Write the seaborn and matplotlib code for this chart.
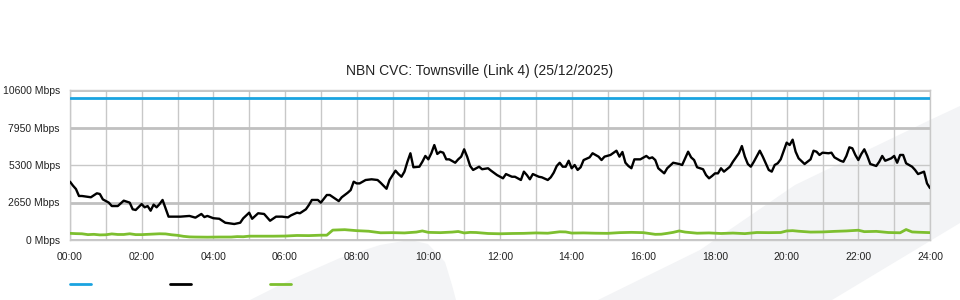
import matplotlib
matplotlib.use("Agg")
import matplotlib.pyplot as plt
from matplotlib.lines import Line2D
from matplotlib.patches import Polygon
import pandas as pd
import seaborn as sns

TITLE = "NBN CVC: Townsville (Link 4) (25/12/2025)"
Y_TICKS = [0, 2650, 5300, 7950, 10600]
Y_TICK_LABELS = [f"{v} Mbps" for v in Y_TICKS]
X_TICKS = list(range(0, 1441, 120))          # minutes
X_TICK_LABELS = [f"{m // 60:02d}:00" for m in X_TICKS]
X_MINOR = list(range(0, 1441, 60))

# capacity (blue)
CAP_T = [0, 1440]
CAP_V = [10000, 10000]

# traffic in (black), minutes / Mbps
IN_T = [0, 5, 10, 15, 20, 35, 45, 50, 55,
        65, 70, 80, 90, 100, 105, 110,
        120, 125, 130, 135, 140, 145, 150, 155, 165,
        185, 200, 210, 220, 225, 230,
        240, 250, 260, 275, 285, 290,
        300, 305, 315, 325, 330, 335, 345, 355,
        365, 370, 380, 385, 395, 400, 405, 415,
        420, 430, 435, 450, 455, 465, 470, 475,
        480, 485, 495, 505, 515, 520, 530, 535,
        545, 550, 555, 560, 565, 570, 575, 585, 590, 595,
        600, 605, 610, 615, 620, 625, 630, 635, 645, 650, 655,
        660, 665, 670, 675, 685, 690, 700, 705, 715,
        725, 730, 740, 745, 755, 760, 765, 770, 775,
        785, 790, 800, 805, 810, 815, 820, 825, 830, 835,
        840, 845, 850, 855, 860, 870, 875, 885, 890, 895,
        905, 915, 920, 925, 930, 935, 940, 945, 955,
        965, 970, 975, 980, 985, 995, 1000, 1010,
        1020, 1025, 1035, 1040, 1045, 1050, 1060, 1065, 1070, 1075,
        1080, 1085, 1090, 1095, 1105, 1110, 1120, 1125, 1130, 1135,
        1140, 1145, 1155, 1160, 1165, 1170, 1175, 1180, 1185, 1190,
        1200, 1205, 1210, 1215, 1220, 1230, 1240, 1245, 1250, 1255,
        1260, 1270, 1275, 1280, 1290, 1295, 1300, 1305, 1310, 1315,
        1320, 1325, 1330, 1335, 1340, 1350, 1355, 1360, 1365, 1375,
        1380, 1385, 1390, 1395, 1400, 1410, 1415, 1420, 1430, 1435, 1440]
IN_V = [4120, 3840, 3600, 3110, 3110, 3020, 3300, 3250, 2870,
        2640, 2400, 2400, 2780, 2640, 2170, 2120,
        2540, 2310, 2400, 2070, 2500, 2310, 2540, 2830, 1650,
        1650, 1700, 1580, 1840, 1620, 1700,
        1540, 1500, 1220, 1130, 1220, 1530,
        1930, 1500, 1890, 1840, 1600, 1360, 1650, 1650,
        1600, 1740, 1930, 1890, 2170, 2470, 2830, 2830,
        2640, 3180, 3180, 2750, 3020, 3340, 3530, 4120,
        4000, 4000, 4240, 4290, 4240, 4050, 3620, 4240,
        4900, 4660, 4470, 4830, 5530, 6130, 5140, 5180, 5530, 5940,
        5700, 6130, 6710, 6080, 6240, 6170, 5700, 5700, 5460, 5700, 5890,
        6410, 5890, 5230, 4950, 5180, 5000, 5070, 4900, 4590,
        4360, 4660, 4470, 4470, 4240, 4830, 4590, 4290, 4660,
        4470, 4430, 4240, 4430, 4760, 5230, 5460, 5180, 5180, 5600,
        5070, 5300, 4950, 5140, 5650, 5840, 6130, 5890, 5650, 5890,
        6010, 6310, 5890, 6220, 5460, 5230, 5070, 5700, 5700,
        5940, 5770, 5840, 5650, 5070, 4710, 5070, 5460,
        5370, 5300, 6240, 5840, 5650, 5140, 5000, 4590, 4360, 4520,
        4710, 4710, 5070, 4830, 5180, 5530, 6130, 6640, 5890, 5370,
        5180, 5530, 6310, 5890, 5420, 4950, 4830, 5300, 5420, 5700,
        6880, 6710, 7090, 6240, 5770, 5370, 5700, 6310, 6240, 6010,
        6170, 6130, 6170, 5840, 5600, 5530, 5940, 6550, 6480, 6010,
        5650, 6080, 6410, 5940, 5370, 5230, 5530, 5940, 5600, 5770,
        5940, 5460, 6010, 6010, 5420, 5180, 4950, 4660, 4830, 4000, 3670]

# traffic out (green), minutes / Mbps
OUT_T = [0, 10, 20, 30, 40, 50, 60, 70, 80, 90, 100, 110,
         120, 130, 140, 150, 160, 170, 180, 190, 200, 210, 230,
         250, 270, 280, 290, 300, 320, 340, 360, 380, 400, 420, 430,
         440, 460, 480, 500, 520, 540, 560, 580, 590, 600, 620, 640,
         650, 660, 670, 680, 700, 720, 740, 760, 780, 800, 820, 830,
         840, 860, 880, 900, 920, 940, 960, 980, 990, 1000, 1010, 1020,
         1030, 1050, 1070, 1090, 1110, 1130, 1150, 1170, 1190, 1200,
         1210, 1220, 1240, 1260, 1280, 1300, 1320, 1330, 1350, 1370,
         1390, 1400, 1410, 1420, 1440]
OUT_V = [470, 450, 440, 380, 400, 360, 370, 430, 390, 390, 440, 380,
         380, 400, 420, 440, 430, 370, 330, 260, 220, 210, 200,
         210, 210, 240, 230, 270, 270, 270, 280, 320, 310, 340, 340,
         700, 730, 660, 620, 510, 520, 500, 560, 640, 540, 520, 560,
         600, 500, 540, 530, 460, 440, 460, 470, 500, 480, 580, 570,
         490, 500, 480, 470, 520, 540, 520, 400, 410, 470, 540, 640,
         560, 480, 500, 460, 490, 450, 530, 520, 530, 640,
         660, 620, 560, 570, 610, 640, 690, 590, 610, 530,
         510, 740, 570, 550, 520]

BLUE = "#1aa3e0"
BLACK = "#000000"
GREEN = "#7dbf2f"
GRID = "#c8c8c8"
TEXT = "#222222"

sns.set_style("white")
plt.rcParams["font.family"] = ["Liberation Sans", "DejaVu Sans"]

W, H = 960, 300
fig = plt.figure(figsize=(9.6, 3.0), dpi=100)
fig.patch.set_facecolor("white")

# decorative watermark shapes behind the chart
wm = "#f3f4f6"
def px(pts):
    return [(x / W, 1 - y / H) for x, y in pts]
fig.patches.append(Polygon(px([(250, 300), (290, 280), (340, 258), (380, 245),
                               (410, 240), (428, 244), (445, 262), (452, 285), (456, 300)]),
                           closed=True, transform=fig.transFigure, facecolor=wm,
                           edgecolor="none", zorder=-5))
fig.patches.append(Polygon(px([(598, 300), (700, 250), (795, 185), (930, 120),
                               (960, 106), (960, 223), (832, 300)]),
                           closed=True, transform=fig.transFigure, facecolor=wm,
                           edgecolor="none", zorder=-5))

ax = fig.add_axes([70 / W, 60 / H, 860 / W, 150 / H])
ax.patch.set_alpha(0)

df_cap = pd.DataFrame({"t": CAP_T, "v": CAP_V})
df_in = pd.DataFrame({"t": IN_T, "v": IN_V})
df_out = pd.DataFrame({"t": OUT_T, "v": OUT_V})

sns.lineplot(data=df_cap, x="t", y="v", color=BLUE, lw=2.0, estimator=None, ax=ax, zorder=4)
sns.lineplot(data=df_out, x="t", y="v", color=GREEN, lw=2.0, estimator=None, ax=ax, zorder=5)
sns.lineplot(data=df_in, x="t", y="v", color=BLACK, lw=1.7, estimator=None, ax=ax, zorder=6)

ax.set_xlim(0, 1440)
ax.set_ylim(0, 10600)
ax.set_xticks(X_TICKS)
ax.set_xticklabels(X_TICK_LABELS)
ax.set_xticks(X_MINOR, minor=True)
ax.set_yticks(Y_TICKS)
ax.set_yticklabels(Y_TICK_LABELS)
ax.set_xlabel("")
ax.set_ylabel("")

ax.grid(True, which="both", axis="x", color=GRID, lw=1.0)
ax.grid(True, which="major", axis="y", color="#c0c0c0", lw=2.0)
ylines = ax.get_ygridlines()
ylines[2].set_linewidth(1.0)
ylines[2].set_color(GRID)
ax.set_axisbelow(True)

ax.tick_params(axis="x", which="major", length=7, width=1, color="#bbbbbb",
               labelsize=7.5, labelcolor=TEXT, pad=2)
ax.tick_params(axis="x", which="minor", length=0)
ax.tick_params(axis="y", length=0, labelsize=7.5, labelcolor=TEXT, pad=7.2)

for s in ax.spines.values():
    s.set_visible(True)
    s.set_color(GRID)
    s.set_linewidth(1.0)

fig.text(0.5, 1 - 71 / H, TITLE, ha="center", va="center", fontsize=10, color=TEXT)

handles = [Line2D([], [], color=c, lw=2) for c in (BLUE, BLACK, GREEN)]
fig.legend(handles, ["", "", ""], loc="center left", bbox_to_anchor=(70 / W, 15 / H),
           ncol=3, frameon=False, handlelength=2.0, handletextpad=0.0,
           columnspacing=7.6, fontsize=7.5, borderpad=0, borderaxespad=0)

fig.savefig("out.png", dpi=100, facecolor="white")
